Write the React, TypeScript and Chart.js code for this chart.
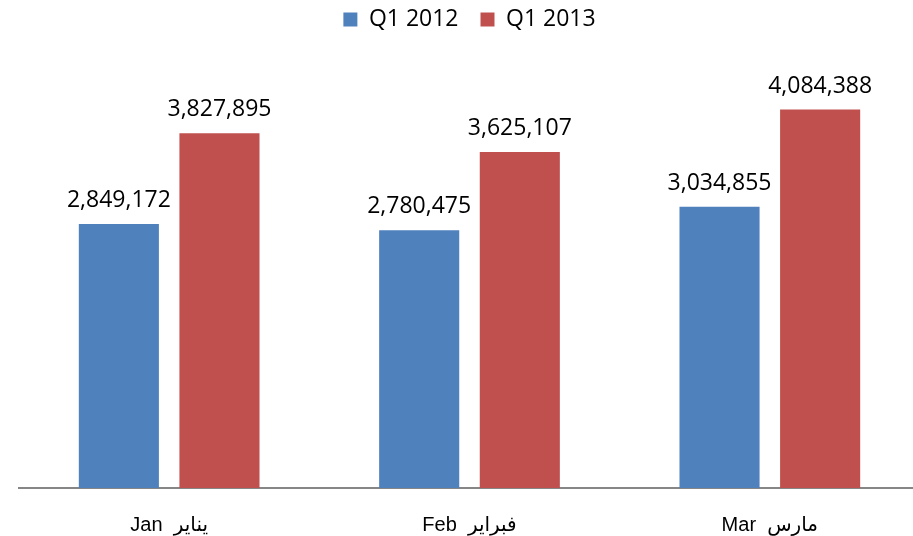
import React, { useEffect, useRef } from "react";
import { Chart, registerables } from "chart.js";

Chart.register(...registerables);

const categories = ["Jan  يناير", "Feb  فبراير", "Mar  مارس"];
const seriesNames = ["Q1 2012", "Q1 2013"];
const q1_2012 = [2849172, 2780475, 3034855];
const q1_2013 = [3827895, 3625107, 4084388];
const seriesColors = ["#4F81BD", "#C0504D"];
const yMin = 0;
const yMax = 4500000;

const FONT = '"Open Sans", "DejaVu Sans", sans-serif';
const TICK_FONT = '"Liberation Sans", "DejaVu Sans", sans-serif';

const legendHeightPlugin = {
  id: "legendHeight",
  beforeLayout(chart: any) {
    const lg = chart.legend;
    if (lg && !lg.__patched) {
      const orig = lg.fit;
      lg.fit = function (this: any) {
        orig.call(this);
        this.height = 85;
      };
      lg.__patched = true;
    }
  },
};

const valueLabelsPlugin = {
  id: "valueLabels",
  afterDatasetsDraw(chart: any) {
    const ctx = chart.ctx;
    ctx.save();
    ctx.font = `23px ${FONT}`;
    ctx.fillStyle = "#000000";
    ctx.textAlign = "center";
    ctx.textBaseline = "alphabetic";
    chart.data.datasets.forEach((ds: any, i: number) => {
      const meta = chart.getDatasetMeta(i);
      meta.data.forEach((bar: any, j: number) => {
        const v = Number(ds.data[j]);
        ctx.fillText(v.toLocaleString("en-US"), bar.x, bar.y - 17);
      });
    });
    ctx.restore();
  },
};

export default function App() {
  const ref = useRef<HTMLCanvasElement>(null);

  useEffect(() => {
    document.body.style.margin = "0";
    const canvas = ref.current;
    if (!canvas) return;
    const chart = new Chart(canvas, {
      type: "bar",
      data: {
        labels: categories,
        datasets: [
          { label: seriesNames[0], data: q1_2012, backgroundColor: seriesColors[0] },
          { label: seriesNames[1], data: q1_2013, backgroundColor: seriesColors[1] },
        ],
      },
      options: {
        animation: false,
        responsive: false,
        maintainAspectRatio: false,
        layout: { padding: { left: 19, right: 2, top: -14, bottom: -26 } },
        datasets: {
          bar: { categoryPercentage: 0.67, barPercentage: 0.796 },
        },
        plugins: {
          legend: {
            display: true,
            position: "top",
            labels: {
              boxWidth: 14,
              boxHeight: 14,
              padding: 22,
              color: "#000000",
              font: { family: FONT, size: 23 },
            },
          },
          tooltip: { enabled: false },
        },
        scales: {
          x: {
            grid: { display: false, drawTicks: false },
            border: { display: true, color: "#868686", width: 2 },
            ticks: {
              color: "#000000",
              padding: 25,
              font: { family: TICK_FONT, size: 20 },
            },
          },
          y: {
            display: false,
            min: yMin,
            max: yMax,
          },
        },
      },
      plugins: [legendHeightPlugin, valueLabelsPlugin],
    });
    return () => chart.destroy();
  }, []);

  return (
    <div style={{ width: 913, height: 536, overflow: "hidden", position: "relative" }}>
      <canvas ref={ref} width={922} height={536} style={{ display: "block", width: 922, height: 536 }} />
    </div>
  );
}
